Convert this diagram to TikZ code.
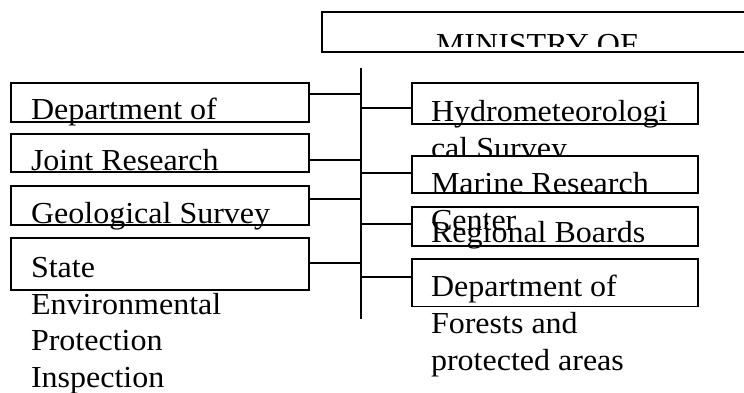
\documentclass[tikz,border=0pt]{standalone}
\usepackage{fontspec}
\newfontfamily\tnr[FakeStretch=1.05]{Liberation Serif}
\newcommand\mlines[1]{\vtop{\baselineskip=36.7pt\lineskiplimit=-100pt\lineskip=0pt #1}}
\tikzset{
  box/.style={draw, line width=1.7pt, fill=white, rectangle, inner sep=0pt, outer sep=0pt, anchor=north west},
  lbl/.style={anchor=base west, inner sep=0pt, outer sep=0pt, font=\tnr\fontsize{30.5}{36.7}\selectfont},
  wire/.style={line width=1.7pt}
}
\begin{document}
\begin{tikzpicture}[x=1pt,y=-1pt]
\clip (0,0) rectangle (744,392);
% Ministry
\node[box, minimum width=440pt, minimum height=40pt] (min) at (322,12) {};
\begin{scope}
  \clip (322,12) rectangle (760,46);
  \node[lbl] (mint) at (436,54) {MINISTRY OF};
\end{scope}
% spine
\coordinate (spT) at (360.7,68.3);
\coordinate (spB) at (360.7,319.3);
\draw[wire] (spT) -- (spB);
% left column
\node[box, minimum width=298.6pt, minimum height=39pt] (L1) at (10.7,82.7) {};
\node[lbl] (L1t) at (31,119.3) {Department of};
\node[box, minimum width=298.6pt, minimum height=37.4pt] (L2) at (10.7,134.3) {};
\node[lbl] (L2t) at (31,170) {Joint Research};
\node[box, minimum width=298.6pt, minimum height=39.3pt] (L3) at (10.7,185.7) {};
\node[lbl] (L3t) at (31,223.3) {Geological Survey};
\node[box, minimum width=298.6pt, minimum height=51.7pt] (L4) at (10.7,238.3) {};
\node[lbl] (L4t) at (31,277.5) {\mlines{\hbox{State}\hbox{Environmental}\hbox{Protection}\hbox{Inspection}}};
% right column
\node[box, minimum width=286pt, minimum height=41.6pt] (R1) at (412.3,82.7) {};
\node[lbl] (R1t) at (431,121.7) {\mlines{\hbox{Hydrometeorologi}\hbox{cal Survey}}};
\node[box, minimum width=286pt, minimum height=37.3pt] (R2) at (412.3,156) {};
\node[box, minimum width=286pt, minimum height=39pt] (R3) at (412.3,206.7) {};
\node[lbl] (R2t) at (431,193.3) {\mlines{\hbox{Marine Research}\hbox{Center}}};
\node[lbl] (R3t) at (431,242.5) {Regional Boards};
\node[box, minimum width=286pt, minimum height=47.8pt] (R4) at (412.3,258.7) {};
\node[lbl] (R4t) at (431,296.7) {\mlines{\hbox{Department of}\hbox{Forests and}\hbox{protected areas}}};
% connectors
\coordinate (c1) at ([yshift=-11.6pt]L1.north east);
\coordinate (c2) at ([yshift=-25.7pt]L2.north east);
\coordinate (c3) at ([yshift=-13.3pt]L3.north east);
\coordinate (c4) at ([yshift=-25pt]L4.north east);
\draw[wire] (c1) -- (c1 -| spT);
\draw[wire] (c2) -- (c2 -| spT);
\draw[wire] (c3) -- (c3 -| spT);
\draw[wire] (c4) -- (c4 -| spT);
\coordinate (d1) at ([yshift=-25.6pt]R1.north west);
\coordinate (d2) at ([yshift=-17.3pt]R2.north west);
\coordinate (d3) at ([yshift=-17.6pt]R3.north west);
\coordinate (d4) at ([yshift=-18pt]R4.north west);
\draw[wire] (d1 -| spT) -- (d1);
\draw[wire] (d2 -| spT) -- (d2);
\draw[wire] (d3 -| spT) -- (d3);
\draw[wire] (d4 -| spT) -- (d4);
\end{tikzpicture}
\end{document}
